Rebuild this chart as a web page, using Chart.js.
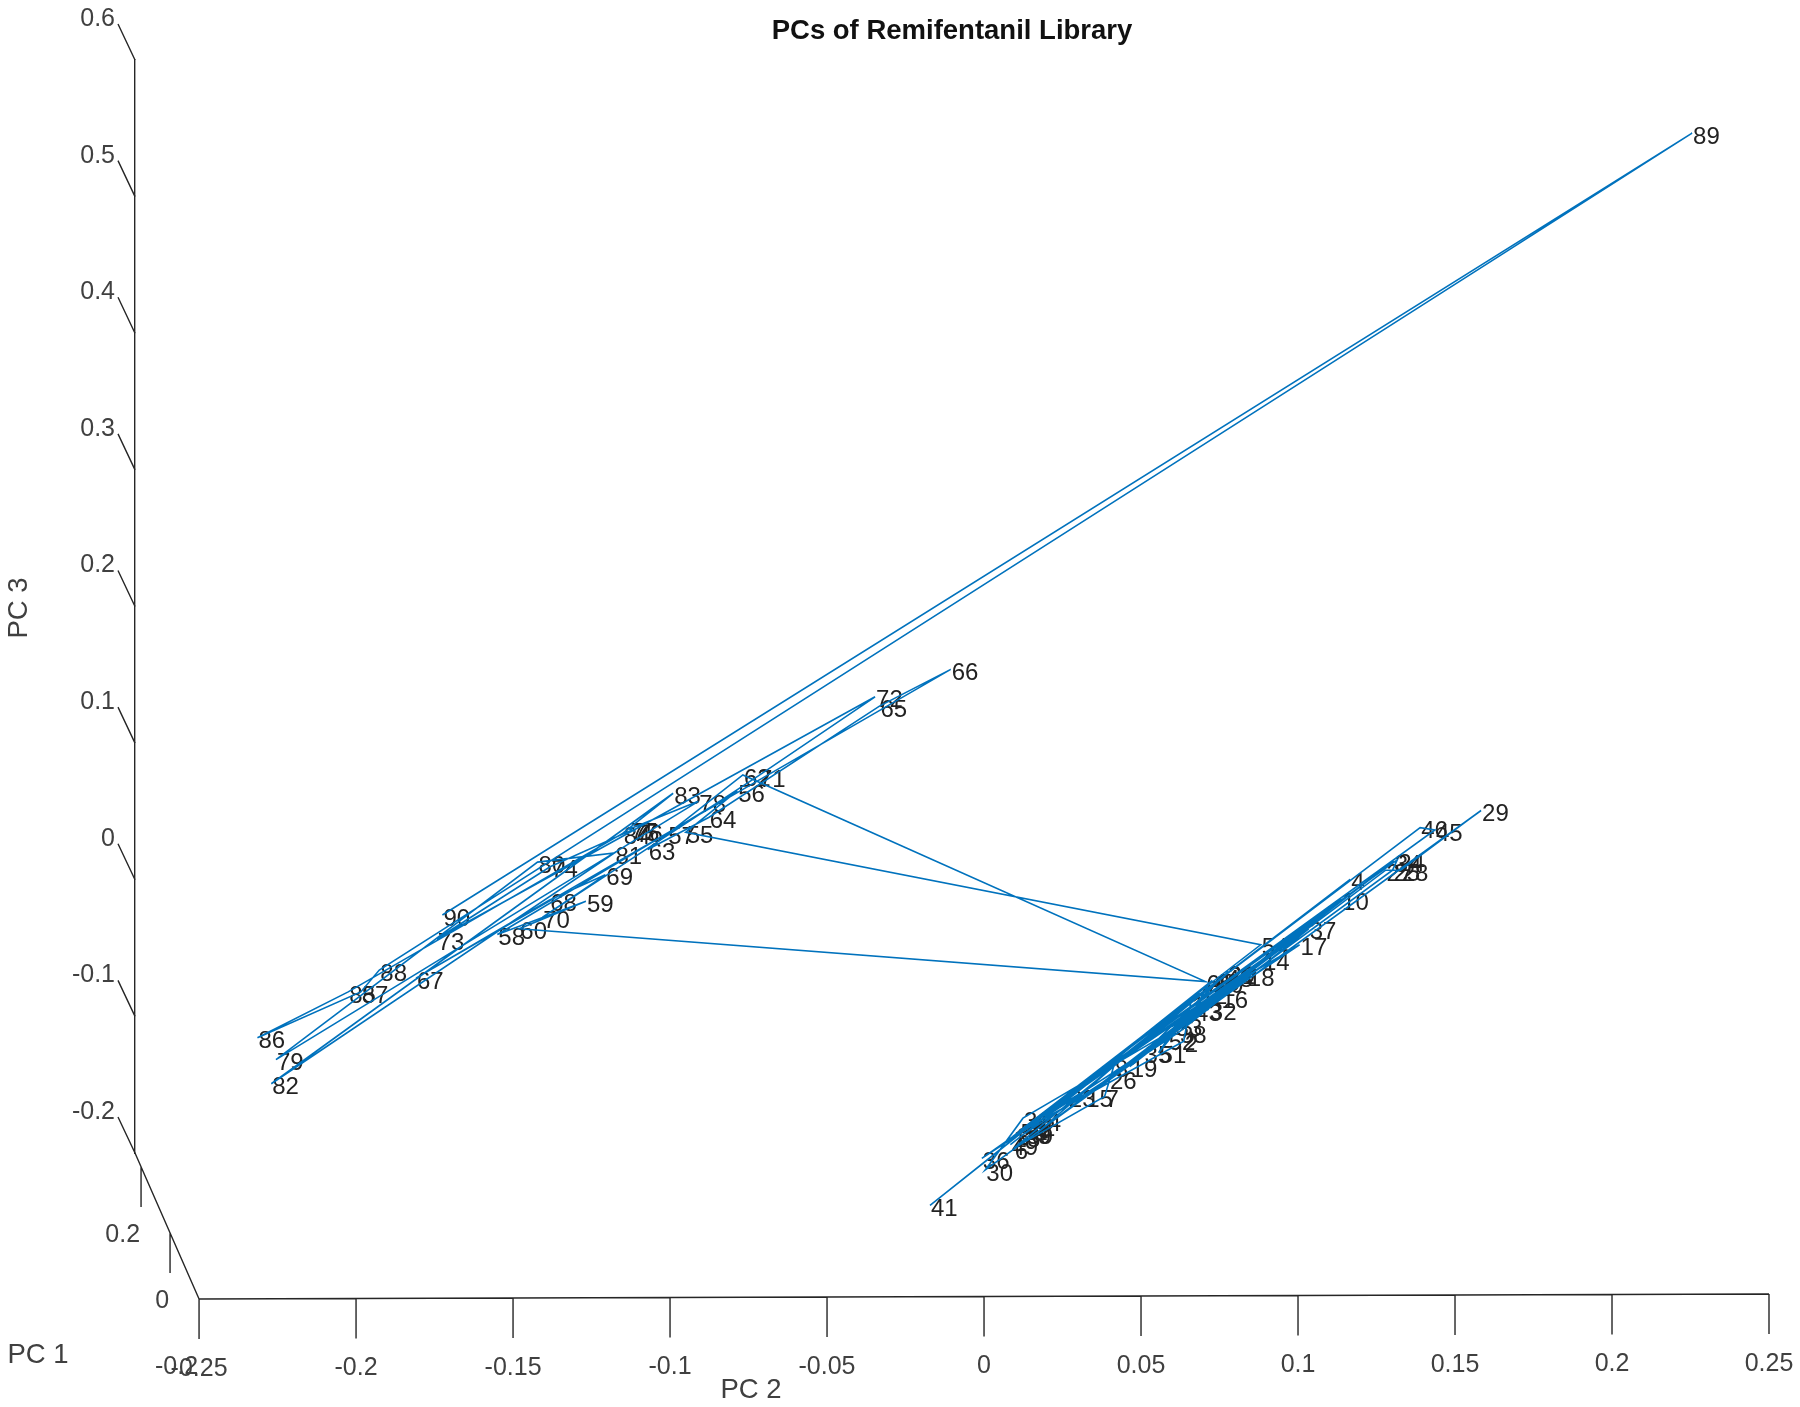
<!DOCTYPE html>
<html>
<head>
<meta charset="utf-8">
<title>PCs of Remifentanil Library</title>
<script src="https://cdn.jsdelivr.net/npm/chart.js@4/dist/chart.umd.min.js"></script>
<style>
  html, body { margin: 0; padding: 0; background: #fff; }
  canvas { display: block; filter: blur(0.6px); }
</style>
</head>
<body>
<canvas id="pcChart" width="1800" height="1407"></canvas>
<script>
// === Chart values ===
const pointLabels = ["1","2","3","4","5","6","7","8","9","10","11","12","13","14","15","16","17","18","19","20",
  "21","22","23","24","25","26","27","28","29","30","31","32","33","34","35","36","37","38","39","40",
  "41","42","43","44","45","46","47","48","49","50","51","52","53","54","55","56","57","58","59","60",
  "61","62","63","64","65","66","67","68","69","70","71","72","73","74","75","76","77","78","79","80",
  "81","82","83","84","85","86","87","88","89","90"];

const pc2Values = [0.0658,0.0636,0.0102,0.1166,0.0746,0.0095,0.0384,0.0413,0.0168,0.1137,
  0.0121,0.0687,0.0091,0.0885,0.0322,0.0753,0.1005,0.0837,0.0464,0.0775,
  0.0775,0.0139,0.0267,0.1316,0.1301,0.0398,0.1279,0.1327,0.1583,0.0004,
  0.0124,0.0716,0.0607,0.1305,0.0508,-0.0007,0.1034,0.0621,0.0132,0.0727,
  -0.0172,0.0713,0.0669,0.0157,0.1436,0.1389,0.0128,0.0768,0.0084,0.0738,
  0.0556,0.0585,0.0113,0.0881,-0.0950,-0.0786,-0.1009,-0.1550,-0.1268,-0.1480,
  0.0705,-0.0768,-0.1071,-0.0877,-0.0333,-0.0106,-0.1809,-0.1385,-0.1206,-0.1407,
  -0.0720,-0.0347,-0.1743,-0.1382,-0.1122,-0.1111,-0.1129,-0.0910,-0.2255,-0.1422,
  -0.1177,-0.2270,-0.0990,-0.1151,-0.2025,-0.2314,-0.1985,-0.1926,0.2255,-0.1725];

const pc3Values = [-0.0905,-0.1182,-0.1863,0.0003,-0.0739,-0.1964,-0.1586,-0.1367,-0.1855,-0.0140,
  -0.1829,-0.0829,-0.1880,-0.0586,-0.1586,-0.0863,-0.0476,-0.0703,-0.1367,-0.0678,
  -0.0687,-0.1796,-0.1586,0.0145,0.0070,-0.1451,0.0070,0.0070,0.0507,-0.2124,
  -0.1745,-0.0947,-0.1065,0.0137,-0.1266,-0.2039,-0.0359,-0.1115,-0.1855,-0.0737,
  -0.2384,-0.0771,-0.0955,-0.1762,0.0364,0.0381,-0.1813,-0.0704,-0.1939,-0.0754,
  -0.1266,-0.1166,-0.1838,-0.0476,0.0347,0.0650,0.0339,-0.0401,-0.0157,-0.0359,
  -0.0745,0.0767,0.0221,0.0456,0.1271,0.1540,-0.0720,-0.0149,0.0036,-0.0275,
  0.0759,0.1339,-0.0434,0.0095,0.0364,0.0355,0.0372,0.0574,-0.1317,0.0129,
  0.0196,-0.1493,0.0633,0.0339,-0.0821,-0.1157,-0.0821,-0.0661,0.5465,-0.0258];

const xTicks = [-0.25,-0.2,-0.15,-0.1,-0.05,0,0.05,0.1,0.15,0.2,0.25];
const yTicks = [-0.2,-0.1,0,0.1,0.2,0.3,0.4,0.5,0.6];
const pc1Ticks = ["-0.2","0","0.2"];

const LINE_BLUE = "#0072BD";
const AXIS_DARK = "#262626";
const TEXT_DARK = "#404040";
const FONT = '"Liberation Sans", Arial, sans-serif';

// === Axes of the 3D view, and the text labels beside each vertex ===
const viewPlugin = {
  id: "view3d",
  beforeDatasetsDraw(chart) {
    const { ctx, scales: { x, y } } = chart;
    ctx.save();
    ctx.font = "24px " + FONT;
    ctx.fillStyle = "#222222";
    ctx.textAlign = "left";
    ctx.textBaseline = "middle";
    pointLabels.forEach((label, i) => {
      ctx.fillText(label, x.getPixelForValue(pc2Values[i]) + 1, y.getPixelForValue(pc3Values[i]) + 4);
    });
    ctx.restore();
  },
  afterDraw(chart) {
    const { ctx, scales: { x, y } } = chart;
    const x0 = x.getPixelForValue(xTicks[0]);
    const x1 = x.getPixelForValue(xTicks[xTicks.length - 1]);
    const yBase = y.getPixelForValue(yTicks[0]) + 146;
    const floorY = px => yBase - 5 * (px - x0) / (x1 - x0); // floor edge leans a little

    ctx.save();
    ctx.strokeStyle = AXIS_DARK;
    ctx.lineWidth = 1.4;

    // PC 2 axis
    ctx.beginPath();
    ctx.moveTo(x0, floorY(x0));
    ctx.lineTo(x1, floorY(x1));
    xTicks.forEach(t => {
      const px = x.getPixelForValue(t);
      ctx.moveTo(px, floorY(px));
      ctx.lineTo(px, floorY(px) + 40);
    });

    // PC 1 axis runs from the floor corner up to the foot of PC 3
    const yAxisX = x.left;
    const yFoot = y.getPixelForValue(yTicks[0]);
    ctx.moveTo(x0, yBase);
    ctx.lineTo(yAxisX, yFoot);
    const pc1Pos = pc1Ticks.map((t, i) => ({ px: x0 - 29 * i, py: yBase - 66 * i }));
    pc1Pos.forEach(p => {
      ctx.moveTo(p.px, p.py);
      ctx.lineTo(p.px, p.py + 40);
    });

    // slanted PC 3 tick marks
    yTicks.forEach(t => {
      const py = y.getPixelForValue(t);
      ctx.moveTo(yAxisX, py);
      ctx.lineTo(yAxisX - 17, py - 36);
    });
    ctx.stroke();

    // tick labels
    ctx.fillStyle = TEXT_DARK;
    ctx.font = "25px " + FONT;
    ctx.textBaseline = "middle";
    ctx.textAlign = "center";
    xTicks.forEach(t => {
      const px = x.getPixelForValue(t);
      ctx.fillText(String(t), px, floorY(px) + 70);
    });
    ctx.textAlign = "right";
    pc1Ticks.forEach((t, i) => {
      ctx.fillText(t, pc1Pos[i].px - 1, pc1Pos[i].py + 68);
    });

    // axis names
    ctx.font = "27.5px " + FONT;
    ctx.textAlign = "center";
    ctx.fillText("PC 2", 751, 1390);
    ctx.fillText("PC 1", 38, 1355);
    ctx.translate(19, 608);
    ctx.rotate(-Math.PI / 2);
    ctx.fillText("PC 3", 0, 0);
    ctx.restore();
  }
};

// === Chart ===
new Chart(document.getElementById("pcChart"), {
  type: "scatter",
  data: {
    labels: pointLabels,
    datasets: [{
      data: pc2Values.map((v, i) => ({ x: v, y: pc3Values[i] })),
      showLine: true,
      borderColor: LINE_BLUE,
      borderWidth: 1.6,
      pointRadius: 0,
      fill: false,
      tension: 0,
      clip: false
    }]
  },
  options: {
    responsive: false,
    animation: false,
    events: [],
    layout: { padding: { right: 31 } },
    plugins: {
      legend: { display: false },
      tooltip: { enabled: false },
      title: {
        display: true,
        text: "PCs of Remifentanil Library",
        fullSize: false,
        color: "#111111",
        font: { family: FONT, size: 27.5, weight: "bold", lineHeight: 1.2 },
        padding: { top: 15, bottom: 12 }
      }
    },
    scales: {
      x: {
        type: "linear",
        min: -0.2704,
        max: 0.25,
        grid: { display: false },
        border: { display: false },
        ticks: { display: false },
        afterBuildTicks: axis => { axis.ticks = xTicks.map(value => ({ value })); },
        afterFit: axis => { axis.height = 254; }
      },
      y: {
        type: "linear",
        min: -0.2,
        max: 0.6,
        grid: { display: false, drawTicks: false },
        border: { display: true, color: AXIS_DARK, width: 1.4 },
        ticks: {
          color: TEXT_DARK,
          font: { family: FONT, size: 25 },
          padding: 20,
          labelOffset: -41,
          autoSkip: false,
          callback: v => String(v)
        },
        afterBuildTicks: axis => { axis.ticks = yTicks.map(value => ({ value })); },
        afterFit: axis => { axis.width = 135; }
      }
    }
  },
  plugins: [viewPlugin]
});
</script>
</body>
</html>
